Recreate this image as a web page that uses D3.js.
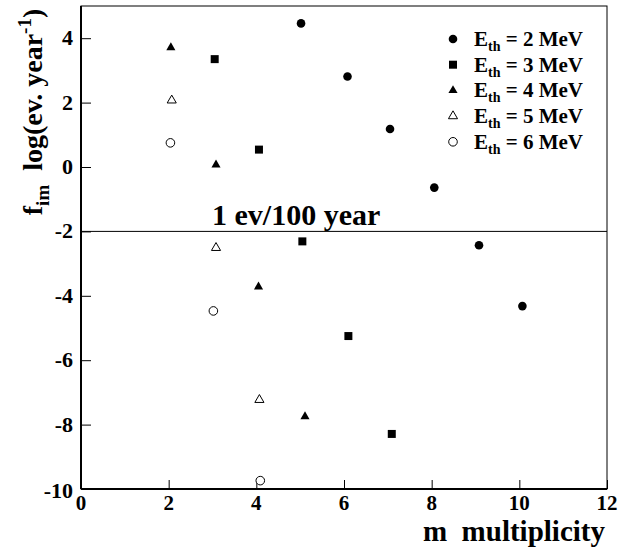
<!DOCTYPE html>
<html>
<head>
<meta charset="utf-8">
<script src="https://cdn.jsdelivr.net/npm/d3@7"></script>
<style>
  html, body { margin: 0; padding: 0; background: #fff; }
</style>
</head>
<body>
<svg id="chart" width="621" height="550"></svg>
<script>
// ---- data ----
const series2x = [5.02, 6.08, 7.05, 8.06, 9.08, 10.07];
const series2y = [4.46, 2.81, 1.18, -0.64, -2.43, -4.32];
const series3x = [3.05, 4.06, 5.05, 6.10, 7.09];
const series3y = [3.35, 0.54, -2.31, -5.25, -8.29];
const series4x = [2.05, 3.08, 4.05, 5.11];
const series4y = [3.71, 0.07, -3.72, -7.75];
const series5x = [2.07, 3.08, 4.07];
const series5y = [2.07, -2.51, -7.23];
const series6x = [2.04, 3.02, 4.09];
const series6y = [0.75, -4.47, -9.74];
const legendLabels = ["2", "3", "4", "5", "6"];
const xTicks = [0, 2, 4, 6, 8, 10, 12];
const yTicks = [-10, -8, -6, -4, -2, 0, 2, 4];
const refLineValue = -2;
const refLineLabel = "1 ev/100 year";

const FONT = "'Liberation Serif', 'Times New Roman', serif";
const W = 621, H = 550;
const margin = { left: 81, right: 14, top: 6, bottom: 61 };
const svg = d3.select("#chart");
function tx(sel, size) {
  return sel.style("font-family", FONT).style("font-weight", "bold")
            .style("font-size", size + "px").attr("fill", "#000");
}

const x = d3.scaleLinear().domain([0, 12]).range([margin.left, W - margin.right]);
const y = d3.scaleLinear().domain([-10, 5]).range([H - margin.bottom, margin.top]);

// frame
svg.append("rect")
  .attr("x", x(0)).attr("y", y(5))
  .attr("width", x(12) - x(0)).attr("height", y(-10) - y(5))
  .attr("fill", "none").attr("stroke", "#000").attr("stroke-width", 1);

// x axis
const xAxisG = svg.append("g").attr("transform", `translate(0,${y(-10)})`);
xAxisG.call(d3.axisTop(x).tickValues(d3.range(0, 12.01, 0.5)).tickSize(4).tickFormat(""))
  .call(g => g.select(".domain").remove());
xAxisG.call(d3.axisTop(x).tickValues(xTicks).tickSize(9).tickFormat(""))
  .call(g => g.select(".domain").remove());
xAxisG.selectAll("line").attr("stroke", "#000").attr("stroke-width", 1);
xAxisG.append("line").attr("x1", x(0)).attr("x2", x(12)).attr("stroke", "#000").attr("stroke-width", 2);
xAxisG.selectAll(".xlab").data(xTicks).enter().append("text")
  .attr("class", "xlab")
  .attr("x", d => x(d)).attr("y", 21)
  .attr("text-anchor", "middle")
  .call(tx, 21)
  .text(d => d);

// y axis
const yAxisG = svg.append("g").attr("transform", `translate(${x(0)},0)`);
yAxisG.call(d3.axisRight(y).tickValues(d3.range(-10, 5.01, 0.5)).tickSize(5).tickFormat(""))
  .call(g => g.select(".domain").remove());
yAxisG.call(d3.axisRight(y).tickValues(yTicks).tickSize(10).tickFormat(""))
  .call(g => g.select(".domain").remove());
yAxisG.selectAll("line").attr("stroke", "#000").attr("stroke-width", 1);
yAxisG.append("line").attr("y1", y(-10)).attr("y2", y(5)).attr("stroke", "#000").attr("stroke-width", 2);
yAxisG.selectAll(".ylab").data(yTicks).enter().append("text")
  .attr("class", "ylab")
  .attr("x", -8).attr("y", d => y(d) + (d === -10 ? 9 : 7))
  .attr("text-anchor", "end")
  .call(tx, 22)
  .text(d => d);

// reference line
svg.append("line")
  .attr("x1", x(0)).attr("x2", x(12))
  .attr("y1", y(refLineValue)).attr("y2", y(refLineValue))
  .attr("stroke", "#000").attr("stroke-width", 1);
svg.append("text")
  .attr("x", 212).attr("y", y(refLineValue) - 6)
  .attr("text-anchor", "start")
  .call(tx, 30)
  .text(refLineLabel);

// axis titles
svg.append("text")
  .attr("x", W - margin.right - 2).attr("y", 541)
  .attr("text-anchor", "end")
  .call(tx, 29)
  .attr("xml:space", "preserve")
  .text("m  multiplicity");

const yt = svg.append("text")
  .attr("transform", `translate(42,112) rotate(-90)`)
  .attr("text-anchor", "middle")
  .call(tx, 28);
yt.append("tspan").text("f");
yt.append("tspan").attr("dy", 7).style("font-size", "19px").text("im");
yt.append("tspan").attr("dy", -7).text("\u2002log(ev. year");
yt.append("tspan").attr("dy", -11).style("font-size", "19px").text("-1");
yt.append("tspan").attr("dy", 11).text(")");

// markers
const sym = {
  circle: d3.symbol().type(d3.symbolCircle).size(58),
  square: d3.symbol().type(d3.symbolSquare).size(64),
  triangle: d3.symbol().type(d3.symbolTriangle).size(36)
};
const seriesDefs = [
  { xs: series2x, ys: series2y, shape: "circle", filled: true },
  { xs: series3x, ys: series3y, shape: "square", filled: true },
  { xs: series4x, ys: series4y, shape: "triangle", filled: true },
  { xs: series5x, ys: series5y, shape: "triangle", filled: false },
  { xs: series6x, ys: series6y, shape: "circle", filled: false }
];
function styleMarker(sel, s) {
  sel.attr("fill", s.filled ? "#000" : "#fff")
     .attr("stroke", "#000")
     .attr("stroke-width", s.filled ? 0 : 1);
}
seriesDefs.forEach(s => {
  const pts = s.xs.map((v, i) => [v, s.ys[i]]);
  svg.append("g").selectAll("path").data(pts).enter().append("path")
    .attr("d", sym[s.shape]())
    .attr("transform", d => `translate(${x(d[0])},${y(d[1])})`)
    .call(styleMarker, s);
});

// legend
const legX = 453, legY0 = 39, legDy = 25.7;
seriesDefs.forEach((s, i) => {
  const ly = legY0 + i * legDy;
  svg.append("path").attr("d", sym[s.shape]())
    .attr("transform", `translate(${legX},${ly})`)
    .call(styleMarker, s);
  const t = svg.append("text").attr("x", legX + 21).attr("y", ly + 7).call(tx, 21);
  t.append("tspan").text("E");
  t.append("tspan").attr("dy", 5).style("font-size", "14px").text("th");
  t.append("tspan").attr("dy", -5).text(` = ${legendLabels[i]} MeV`);
});
</script>
</body>
</html>
